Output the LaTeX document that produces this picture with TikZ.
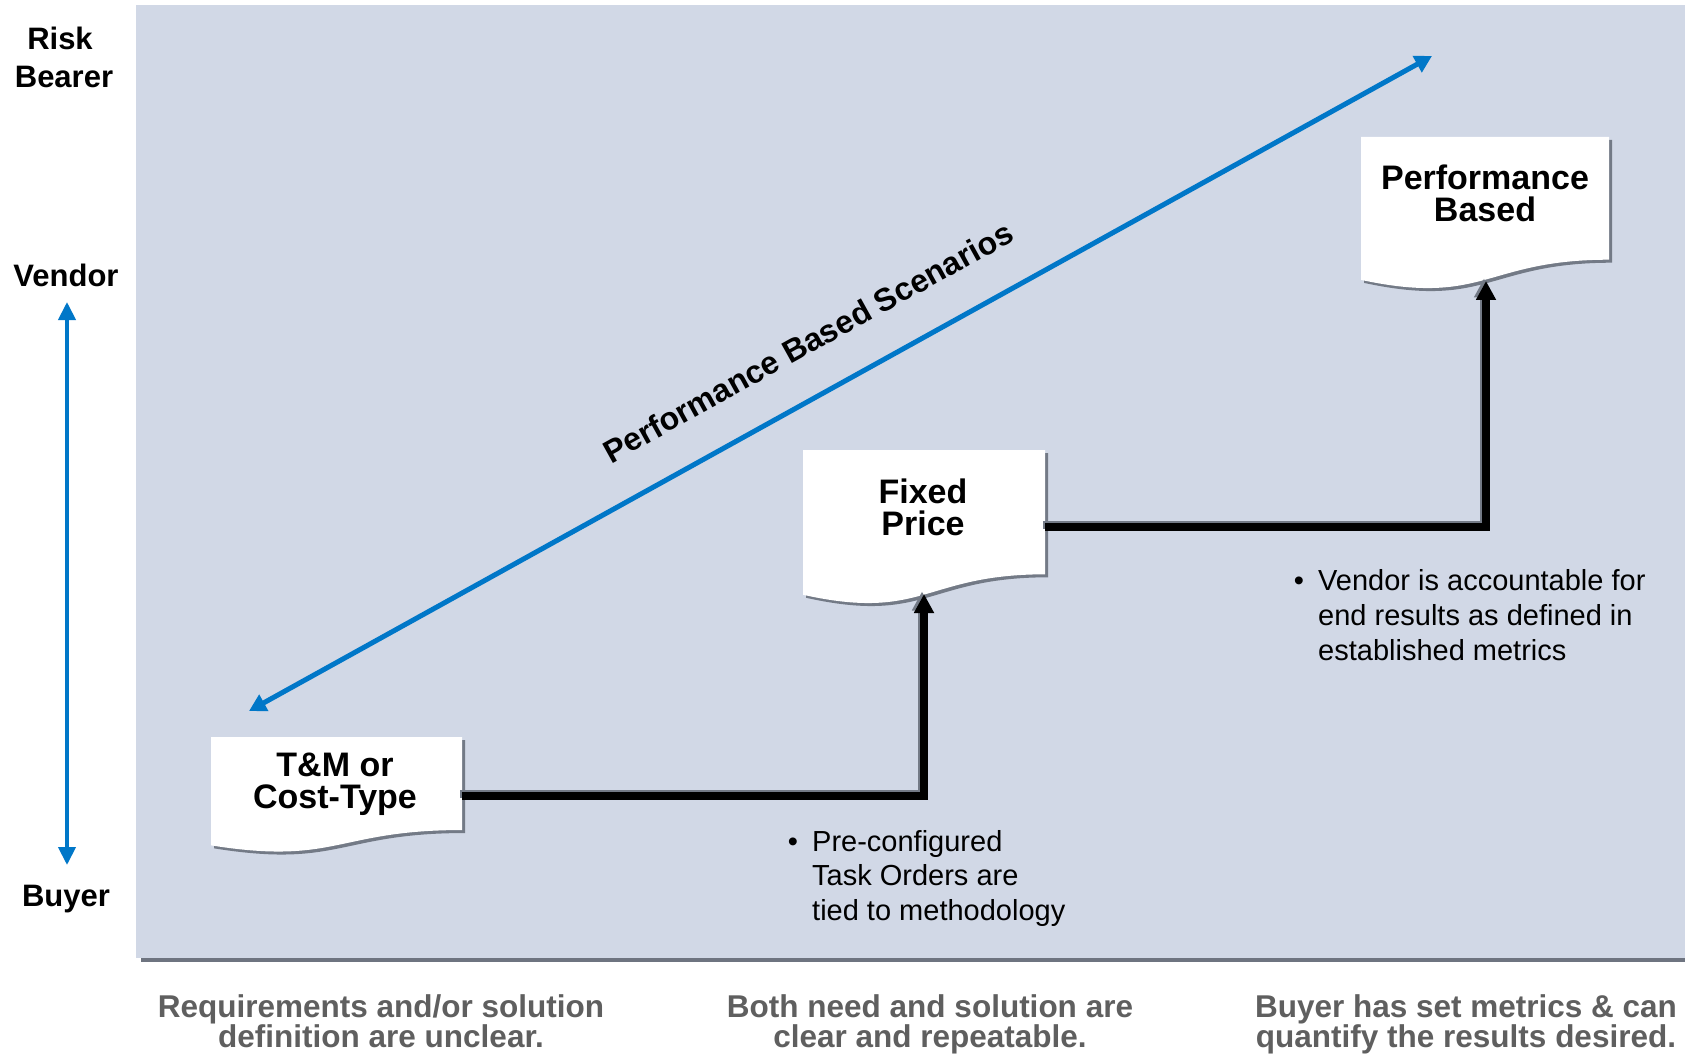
\documentclass[tikz,border=0pt]{standalone}
\usepackage{fontspec}
\setmainfont{Liberation Sans}
\usetikzlibrary{arrows.meta}
\definecolor{panel}{HTML}{D1D8E6}
\definecolor{bar}{HTML}{6E7480}
\definecolor{blu}{HTML}{0077C8}
\definecolor{shad}{HTML}{737A86}
\definecolor{btmgray}{HTML}{5F5F5F}
\tikzset{
 lbl/.style={font=\fontsize{31}{31}\selectfont\bfseries, anchor=base, inner sep=0pt},
 boxtxt/.style={font=\fontsize{34}{32}\selectfont\bfseries, anchor=base, inner sep=0pt},
 bultxt/.style={font=\fontsize{29}{34}\selectfont, anchor=base west, inner sep=0pt},
 btmtxt/.style={font=\fontsize{31.5}{30}\selectfont\bfseries, text=btmgray, anchor=base, inner sep=0pt},
 conn/.style={line width=8pt, -{Triangle[length=19pt,width=19pt]}},
}
\newcommand{\docshape}[5]{%
 \fill[#5] (#1,#2) -- ({#1+#3},#2) -- ({#1+#3},{#2+0.802*#4}) .. controls ({#1+0.5*#3},{#2+0.802*#4}) and ({#1+0.5*#3},{#2+1.1075*#4}) .. (#1,{#2+0.934*#4}) -- cycle;}
\begin{document}
\begin{tikzpicture}[x=1pt,y=-1pt]
\useasboundingbox (0,0) rectangle (1685,1056);
\fill[white] (0,0) rectangle (1685,1056);
\fill[panel] (136,5) rectangle (1685,958);
\fill[bar] (141,958) rectangle (1685,961.5);

% axis labels
\node[lbl] (risk) at (60,50) {Risk};
\node[lbl] (bearer) at (64,88) {Bearer};
\node[lbl] (vendor) at (66,287) {Vendor};
\node[lbl] (buyer) at (66,906) {Buyer};
\coordinate (vtop) at (67,302);
\coordinate (vbot) at (67,865);
\draw[blu, line width=4pt, {Triangle[length=18pt,width=17pt]}-{Triangle[length=18pt,width=17pt]}] (vtop) -- (vbot);

% diagonal arrow
\coordinate (dlo) at (249,711);
\coordinate (dhi) at (1432,56);
\draw[blu, line width=5pt, {Triangle[length=17pt,width=18pt]}-{Triangle[length=17pt,width=18pt]}] (dlo) -- (dhi);
\node[font=\fontsize{32}{32}\selectfont\bfseries, rotate=29, inner sep=0pt] (pbs) at (808,342) {Performance Based Scenarios};

% document boxes
\docshape{211}{737}{251}{116}{shad, shift={(3,3)}}
\docshape{211}{737}{251}{116}{white}
\docshape{803}{450}{242}{155}{shad, shift={(3,3)}}
\docshape{803}{450}{242}{155}{white}
\docshape{1361}{137}{248}{153}{shad, shift={(3,3)}}
\docshape{1361}{137}{248}{153}{white}

% connectors
\coordinate (tmR) at (462,796);
\coordinate (fpB) at (924,594);
\coordinate (fpR) at (1045,527);
\coordinate (pbB) at (1486,281);
\draw[conn, shad] ([shift={(-2,-2.5)}]tmR) -| ([shift={(-2,-2.5)}]fpB);
\draw[conn, black] (tmR) -| (fpB);
\draw[conn, shad] ([shift={(-2,-2.5)}]fpR) -| ([shift={(-2,-2.5)}]pbB);
\draw[conn, black] (fpR) -| (pbB);

% box texts
\node[boxtxt] (tm1) at (335,776) {T\&M or};
\node[boxtxt] (tm2) at (335,808) {Cost-Type};
\node[boxtxt] (fp1) at (923,503) {Fixed};
\node[boxtxt] (fp2) at (923,535) {Price};
\node[boxtxt] (pb1) at (1485,190) {Performance};
\node[boxtxt] (pb2) at (1485,222) {Based};

% bullets
\node[bultxt, anchor=base] (bu1) at (793,851) {\textbullet};
\node[bultxt] (p1) at (812,851) {Pre-configured};
\node[bultxt] (p2) at (812,885.5) {Task Orders are};
\node[bultxt] (p3) at (812,920) {tied to methodology};
\node[bultxt, anchor=base] (bu2) at (1299,590) {\textbullet};
\node[bultxt] (v1) at (1318,590) {Vendor is accountable for};
\node[bultxt] (v2) at (1318,625) {end results as defined in};
\node[bultxt] (v3) at (1318,660) {established metrics};

% bottom captions
\node[btmtxt] (r1) at (381,1017) {Requirements and/or solution};
\node[btmtxt] (r2) at (381,1047) {definition are unclear.};
\node[btmtxt] (n1) at (930,1017) {Both need and solution are};
\node[btmtxt] (n2) at (930,1047) {clear and repeatable.};
\node[btmtxt] (s1) at (1466,1017) {Buyer has set metrics \& can};
\node[btmtxt] (s2) at (1466,1047) {quantify the results desired.};
\end{tikzpicture}
\end{document}
